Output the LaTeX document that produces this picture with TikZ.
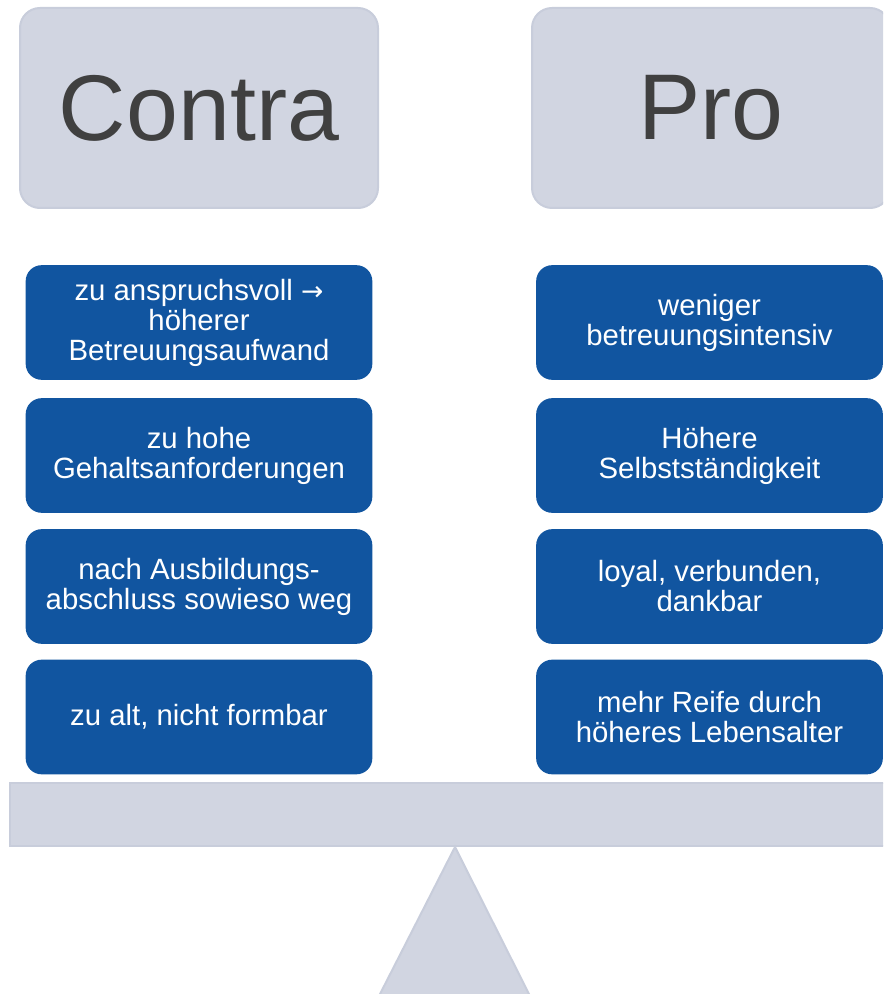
\documentclass[tikz,border=0pt]{standalone}
\usepackage{fontspec}
\setmainfont{Liberation Sans}
\newfontfamily\arrowfont{DejaVu Sans}
\definecolor{palefill}{HTML}{D1D5E1}
\definecolor{paleedge}{HTML}{C8CDDB}
\definecolor{itemblue}{HTML}{1155A0}
\definecolor{headgray}{HTML}{404040}

\begin{document}
\begin{tikzpicture}[x=0.75pt, y=-0.75pt,
    head/.style={draw=paleedge, line width=1.5pt, fill=palefill, rounded corners=15pt,
      minimum width=268.5pt, minimum height=150pt, inner sep=0pt,
      text=headgray, font=\fontsize{70}{80}\selectfont},
    item/.style={fill=itemblue, rounded corners=12pt, minimum width=260pt,
      minimum height=86pt, inner sep=0pt, align=center, text=white,
      font=\fontsize{22}{22.5}\selectfont}]
    \useasboundingbox (0,0) rectangle (883,994);
    \clip (0,0) rectangle (883,994);
    % Headings
    \node[head] (contra) at (199,108) {Contra};
    \node[head] (pro) at (711,108) {Pro};
    % Contra side
    \node[item] (c1) at (199,322.5) {zu anspruchsvoll {\arrowfont\fontsize{20}{22.5}\selectfont →}\\höherer\\Betreuungsaufwand};
    \node[item] (c2) at (199,455.5) {zu hohe\\Gehaltsanforderungen};
    \node[item] (c3) at (199,586.5) {nach Ausbildungs-\\abschluss sowieso weg};
    \node[item] (c4) at (199,717) {zu alt, nicht formbar};
    % Pro side
    \node[item] (p1) at (709.5,322.5) {weniger\\betreuungsintensiv};
    \node[item] (p2) at (709.5,455.5) {Höhere\\Selbstständigkeit};
    \node[item] (p3) at (709.5,586.5) {loyal, verbunden,\\dankbar};
    \node[item] (p4) at (709.5,717) {mehr Reife durch\\höheres Lebensalter};
    % Balance
    \filldraw[fill=palefill, draw=paleedge, line width=1.5pt] (10,783) rectangle (900,846);
    \filldraw[fill=palefill, draw=paleedge, line width=1.5pt] (455,847) -- (530,996) -- (379,996) -- cycle;
\end{tikzpicture}
\end{document}
